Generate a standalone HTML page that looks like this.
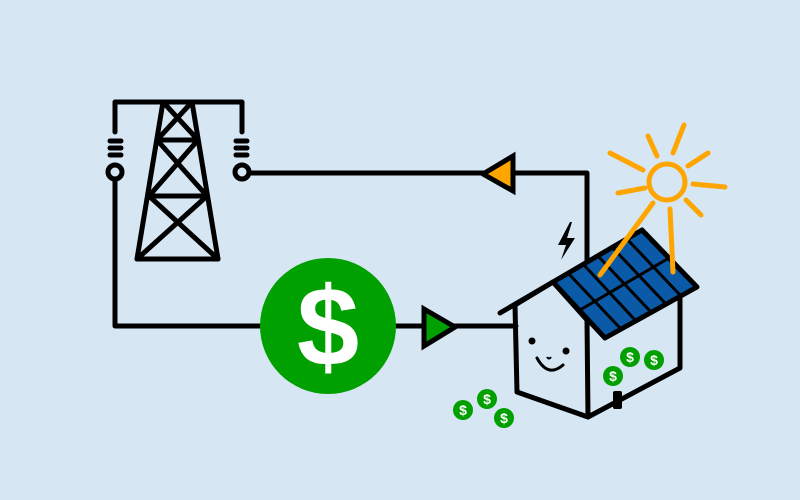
<!DOCTYPE html>
<html><head><style>html,body{margin:0;padding:0;background:#d6e6f3;overflow:hidden;}</style></head><body>
<svg width="800" height="500" viewBox="0 0 800 500" xmlns="http://www.w3.org/2000/svg" style="display:block">
<rect width="800" height="500" fill="#d6e6f3"/>
<g fill="none" stroke="#000" stroke-width="5" stroke-linejoin="round" stroke-linecap="round">
<polyline points="115,132 115,102 242,102 242,132"/>
<line x1="163" y1="102" x2="137" y2="259"/>
<line x1="192" y1="102" x2="218" y2="259"/>
<line x1="137" y1="259" x2="218" y2="259"/>
<line x1="157" y1="140" x2="198" y2="140"/>
<line x1="149" y1="196" x2="207" y2="196"/>
<line x1="163" y1="102" x2="198" y2="140"/>
<line x1="192" y1="102" x2="157" y2="140"/>
<line x1="157" y1="140" x2="207" y2="196"/>
<line x1="198" y1="140" x2="149" y2="196"/>
<line x1="149" y1="196" x2="218" y2="259"/>
<line x1="207" y1="196" x2="137" y2="259"/>
<line x1="110" y1="141" x2="121" y2="141"/><line x1="110" y1="148" x2="121" y2="148"/><line x1="110" y1="155" x2="121" y2="155"/>
<line x1="236" y1="141" x2="247" y2="141"/><line x1="236" y1="148" x2="247" y2="148"/><line x1="236" y1="155" x2="247" y2="155"/>
<circle cx="115" cy="172" r="7"/><circle cx="242" cy="172" r="7"/>
<polyline points="115,179 115,326 270,326"/>
<polyline points="249,173 587,173 587,262"/>
<line x1="390" y1="326" x2="516" y2="326"/>
<polyline points="500,313 553,282"/>
<polyline points="515,305 517,392 588,417 680,368 680,298"/>
<line x1="587" y1="320" x2="588" y2="417"/>
<polyline points="515,305 553,282 587,320"/>
</g>
<polygon points="553,282 642,230 697,287 605,338" fill="#0b5aa8" stroke="#000" stroke-width="5" stroke-linejoin="round"/>
<g stroke="#000" stroke-width="3">
<line x1="580" y1="310" x2="669" y2="258"/>
<line x1="568" y1="273" x2="620" y2="328"/>
<line x1="583" y1="264" x2="635" y2="320"/>
<line x1="598" y1="256" x2="650" y2="311"/>
<line x1="612" y1="247" x2="665" y2="303"/>
<line x1="627" y1="239" x2="680" y2="295"/>
</g>
<rect x="613" y="391" width="9" height="18" rx="2" fill="#000"/>
<circle cx="532" cy="341" r="3.5" fill="#000"/><circle cx="566" cy="351" r="3.5" fill="#000"/>
<path d="M537,358 Q548,378 563,365" fill="none" stroke="#000" stroke-width="3" stroke-linecap="round"/>
<path d="M547,357 q2,3 4,0" fill="none" stroke="#000" stroke-width="2"/>
<polygon points="570,222 558,245 566,245 561,260 575,238 567,238 572,222" fill="#000"/>
<g stroke="#ffa500" stroke-width="5" stroke-linecap="round" fill="none">
<circle cx="667" cy="182" r="18"/>
<line x1="653" y1="203" x2="600" y2="275"/>
<line x1="670" y1="209" x2="673" y2="272"/>
<line x1="645" y1="188" x2="618" y2="193"/>
<line x1="643" y1="170" x2="610" y2="153"/>
<line x1="657" y1="156" x2="648" y2="136"/>
<line x1="673" y1="153" x2="684" y2="125"/>
<line x1="688" y1="166" x2="708" y2="153"/>
<line x1="693" y1="184" x2="725" y2="187"/>
<line x1="686" y1="200" x2="701" y2="215"/>
</g>
<polygon points="483,174 513,156 513,191" fill="#ffa500" stroke="#000" stroke-width="5" stroke-linejoin="miter"/>
<polygon points="424,309 455,327 424,346" fill="#00a000" stroke="#000" stroke-width="5" stroke-linejoin="miter"/>
<circle cx="328" cy="326" r="68" fill="#00a000"/>
<text x="328" y="365" text-anchor="middle" font-family="Liberation Sans, sans-serif" font-weight="bold" font-size="112" fill="#fff">$</text>
<g font-family="Liberation Sans, sans-serif" font-weight="bold" font-size="14" fill="#fff" text-anchor="middle">
<circle cx="463" cy="410" r="10" fill="#00a000"/><text x="463" y="415">$</text>
<circle cx="487" cy="399" r="10" fill="#00a000"/><text x="487" y="404">$</text>
<circle cx="504" cy="418" r="10" fill="#00a000"/><text x="504" y="423">$</text>
<circle cx="630" cy="357" r="10" fill="#00a000"/><text x="630" y="362">$</text>
<circle cx="654" cy="360" r="10" fill="#00a000"/><text x="654" y="365">$</text>
<circle cx="613" cy="376" r="10" fill="#00a000"/><text x="613" y="381">$</text>
</g>
</svg>
</body></html>
